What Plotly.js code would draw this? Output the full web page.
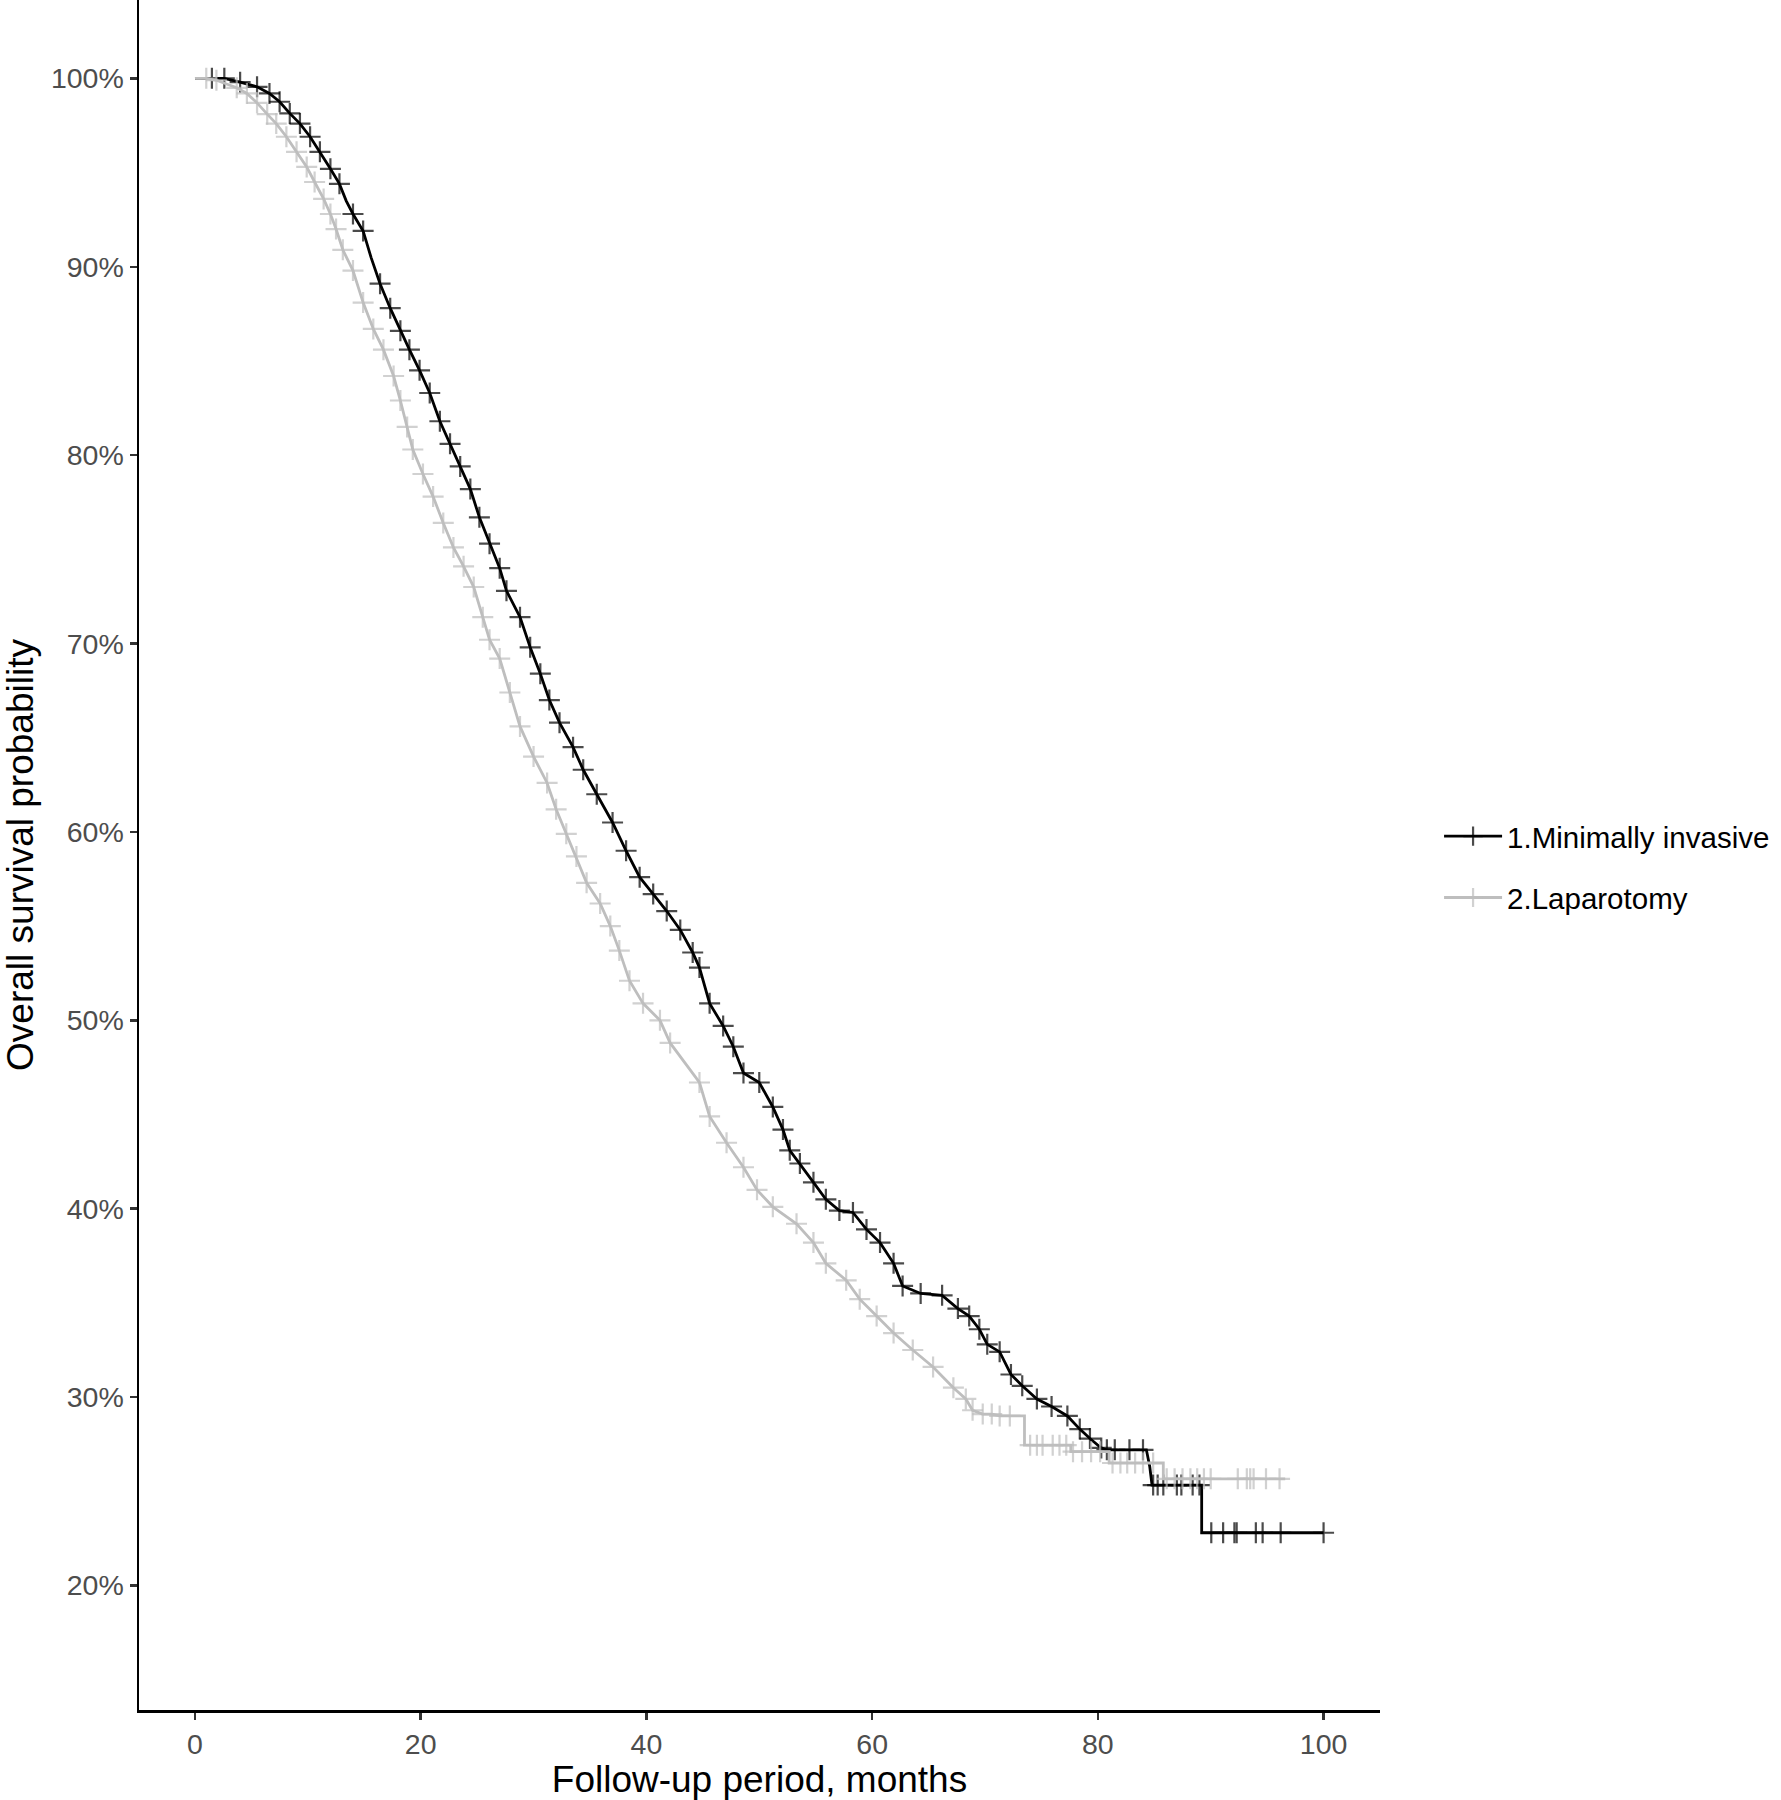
<!DOCTYPE html>
<html>
<head>
<meta charset="utf-8">
<script src="https://cdn.plot.ly/plotly-3.0.1.min.js"></script>
<style>html,body{margin:0;padding:0;background:#fff;}#chart{width:1781px;height:1800px;}</style>
</head>
<body>
<div id="chart"></div>
<script>
// Group 1: Minimally invasive — time (months), survival, censored flag
const months_mi = [0, 1.5, 2.6, 4.0, 5.5, 6.6, 7.5, 8.4, 9.3, 10.2, 11.07, 12.0, 12.8, 13.4, 14.0, 14.9, 15.6, 16.4, 17.3, 18.2,
  19.0, 19.9, 20.8, 21.7, 22.6, 23.5, 24.4, 25.2, 26.1, 27.0, 27.6, 28.8, 29.7, 30.6, 31.4, 32.3, 33.5, 34.4, 35.6, 37.0,
  38.2, 39.4, 40.6, 41.8, 43.0, 44.1, 44.7, 45.6, 46.8, 47.7, 48.6, 50.0, 51.2, 52.1, 52.7, 53.6, 54.8, 55.9, 57.1, 58.3,
  59.5, 60.7, 61.9, 62.7, 64.3, 66.2, 67.6, 68.6, 69.5, 70.2, 71.3, 72.3, 73.3, 74.6, 75.9, 77.3, 78.4, 79.3, 80.3, 80.8,
  81.5, 82.8, 84.0, 84.3, 84.6, 84.8, 84.9, 85.3, 85.8, 87.0, 87.4, 88.4, 89.0, 89.2, 89.2, 90.05, 91.1, 92.1, 92.3, 94.0,
  94.6, 96.2, 100.0];
const surv_mi = [1.0, 1.0, 1.0, 0.998, 0.9955, 0.992, 0.9876, 0.9814, 0.976, 0.969, 0.961, 0.952, 0.944, 0.935, 0.928, 0.919, 0.905, 0.891, 0.878, 0.866,
  0.856, 0.845, 0.833, 0.818, 0.806, 0.794, 0.782, 0.767, 0.753, 0.740, 0.728, 0.714, 0.698, 0.684, 0.670, 0.658, 0.645, 0.633, 0.620, 0.605,
  0.590, 0.576, 0.567, 0.558, 0.548, 0.536, 0.528, 0.509, 0.497, 0.486, 0.472, 0.467, 0.454, 0.442, 0.431, 0.424, 0.414, 0.405, 0.399, 0.398,
  0.389, 0.382, 0.371, 0.359, 0.355, 0.354, 0.347, 0.343, 0.336, 0.328, 0.324, 0.312, 0.306, 0.299, 0.295, 0.290, 0.283, 0.278, 0.273, 0.272,
  0.272, 0.272, 0.272, 0.272, 0.263, 0.2533, 0.2533, 0.2533, 0.2533, 0.2533, 0.2533, 0.2533, 0.2533, 0.2533, 0.228, 0.228, 0.228, 0.228, 0.228, 0.228,
  0.228, 0.228, 0.228];
const censor_mi = [0, 1, 1, 1, 1, 1, 1, 1, 1, 1, 1, 1, 1, 0, 1, 1, 0, 1, 1, 1,
  1, 1, 1, 1, 1, 1, 1, 1, 1, 1, 1, 1, 1, 1, 1, 1, 1, 1, 1, 1,
  1, 1, 1, 1, 1, 1, 1, 1, 1, 1, 1, 1, 1, 1, 1, 1, 1, 1, 1, 1,
  1, 1, 1, 1, 1, 1, 1, 1, 1, 1, 1, 1, 1, 1, 1, 1, 1, 1, 1, 1,
  1, 1, 1, 0, 0, 0, 1, 1, 1, 1, 1, 1, 1, 0, 0, 1, 1, 1, 1, 1,
  1, 1, 1];

// Group 2: Laparotomy — time (months), survival, censored flag
const months_lap = [0, 1.0, 1.9, 3.7, 4.6, 5.5, 6.4, 7.2, 8.1, 9.0, 9.9, 10.6, 11.4, 12.0, 12.5, 13.1, 14.0, 14.9, 15.8, 16.7,
  17.6, 18.2, 18.8, 19.3, 20.2, 21.1, 22.0, 22.9, 23.8, 24.7, 25.5, 26.1, 27.0, 27.9, 28.8, 30.0, 31.2, 32.0, 32.9, 33.8,
  34.7, 35.9, 36.8, 37.6, 38.5, 39.7, 41.2, 42.1, 44.7, 45.6, 47.1, 48.6, 49.8, 51.2, 53.3, 54.8, 55.9, 57.7, 58.9, 60.4,
  61.9, 63.6, 65.4, 67.2, 68.3, 68.9, 69.8, 70.6, 71.3, 72.2, 73.5, 73.5, 74.0, 74.6, 75.1, 76.0, 76.6, 77.2, 77.6, 77.6,
  77.8, 78.6, 79.4, 80.2, 81.0, 81.0, 81.3, 82.0, 82.6, 83.3, 84.0, 84.9, 85.8, 85.8, 86.1, 86.8, 87.5, 88.2, 88.8, 89.4,
  90.0, 92.4, 93.2, 93.5, 93.8, 94.9, 96.1, 96.6];
const surv_lap = [1.0, 1.0, 0.999, 0.995, 0.992, 0.987, 0.981, 0.976, 0.969, 0.961, 0.953, 0.945, 0.936, 0.928, 0.920, 0.909, 0.898, 0.881, 0.867, 0.856,
  0.842, 0.829, 0.815, 0.803, 0.790, 0.778, 0.764, 0.751, 0.741, 0.730, 0.714, 0.702, 0.692, 0.674, 0.656, 0.640, 0.626, 0.612, 0.599, 0.587,
  0.573, 0.562, 0.550, 0.537, 0.521, 0.509, 0.500, 0.488, 0.467, 0.449, 0.435, 0.422, 0.410, 0.401, 0.392, 0.382, 0.371, 0.362, 0.352, 0.343,
  0.334, 0.325, 0.316, 0.305, 0.299, 0.293, 0.291, 0.291, 0.290, 0.290, 0.290, 0.2745, 0.2745, 0.2745, 0.2745, 0.2745, 0.2745, 0.2745, 0.2745, 0.271,
  0.271, 0.271, 0.271, 0.271, 0.271, 0.265, 0.265, 0.265, 0.265, 0.265, 0.265, 0.265, 0.265, 0.2566, 0.2566, 0.2566, 0.2566, 0.2566, 0.2566, 0.2566,
  0.2566, 0.2566, 0.2566, 0.2566, 0.2566, 0.2566, 0.2566, 0.2566];
const censor_lap = [0, 1, 1, 1, 1, 1, 1, 1, 1, 1, 1, 1, 1, 1, 1, 1, 1, 1, 1, 1,
  1, 1, 1, 1, 1, 1, 1, 1, 1, 1, 1, 1, 1, 1, 1, 1, 1, 1, 1, 1,
  1, 1, 1, 1, 1, 1, 1, 1, 1, 1, 1, 1, 1, 1, 1, 1, 1, 1, 1, 1,
  1, 1, 1, 1, 1, 1, 1, 1, 1, 1, 0, 0, 1, 1, 1, 1, 1, 1, 0, 0,
  1, 1, 1, 1, 0, 0, 1, 1, 1, 1, 1, 1, 0, 0, 1, 1, 1, 1, 1, 1,
  1, 1, 1, 1, 1, 1, 1, 0];

const groupNames = ['1.Minimally invasive', '2.Laparotomy'];
const yTickVals = [0.2, 0.3, 0.4, 0.5, 0.6, 0.7, 0.8, 0.9, 1.0];
const xTickVals = [0, 20, 40, 60, 80, 100];

const FONT = 'Liberation Sans, Arial, Helvetica, sans-serif';

function kmTrace(x, y, cens, name, color, group) {
  return {
    type: 'scatter',
    x: x, y: y,
    mode: 'lines+markers',
    name: name,
    legendgroup: group,
    line: {color: color, width: 2.8, shape: 'linear'},
    marker: {
      symbol: 'cross-thin',
      size: cens.map(c => c ? 15 : 0),
      color: color,
      line: {color: color, width: 2.2}
    },
    hoverinfo: 'x+y+name'
  };
}

const data = [
  kmTrace(months_mi, surv_mi, censor_mi, groupNames[0], '#000000', 'g1'),
  kmTrace(months_lap, surv_lap, censor_lap, groupNames[1], '#BEBEBE', 'g2')
];

const axisCommon = {
  showline: true, linecolor: '#000000', linewidth: 2.5,
  ticks: 'outside', ticklen: 7, tickwidth: 2.5, tickcolor: '#333333',
  tickfont: {family: FONT, size: 28.5, color: '#4D4D4D'},
  showgrid: false, zeroline: false, mirror: false
};

const layout = {
  width: 1781, height: 1800,
  margin: {l: 139, r: 401, t: 0, b: 90, pad: 0},
  paper_bgcolor: '#ffffff', plot_bgcolor: '#ffffff',
  font: {family: FONT, color: '#000000'},
  showlegend: true,
  legend: {
    x: 1.0476, xanchor: 'left', y: 0.493, yanchor: 'middle',
    font: {family: FONT, size: 29.5, color: '#000000'},
    bgcolor: 'rgba(0,0,0,0)', borderwidth: 0,
    tracegroupgap: 20, traceorder: 'grouped',
    itemwidth: 58
  },
  xaxis: Object.assign({}, axisCommon, {
    range: [-4.96, 105.0], tickvals: xTickVals,
    title: {text: 'Follow-up period, months', font: {family: FONT, size: 37, color: '#000000'}, standoff: 4}
  }),
  yaxis: Object.assign({}, axisCommon, {
    range: [0.1339, 1.0416], tickvals: yTickVals, tickformat: '.0%',
    title: {text: 'Overall survival probability', font: {family: FONT, size: 37, color: '#000000'}, standoff: 6}
  })
};

Plotly.newPlot('chart', data, layout, {staticPlot: true, displayModeBar: false});
</script>
</body>
</html>
